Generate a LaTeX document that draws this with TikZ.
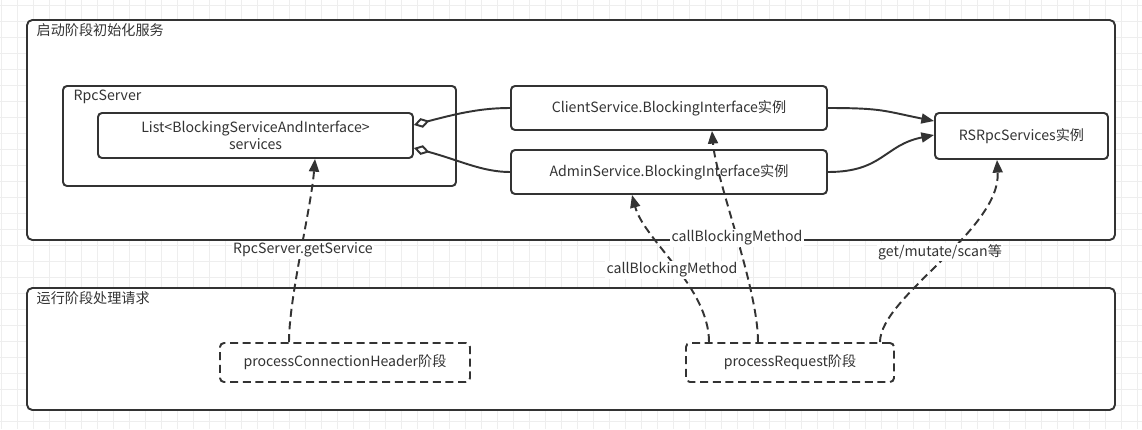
\documentclass[tikz,border=0pt]{standalone}
\usepackage{fontspec}
\setmainfont{Noto Sans CJK SC}
\usepackage{xcolor}
\usetikzlibrary{arrows.meta,calc}
\definecolor{ink}{HTML}{333333}
\definecolor{gridc}{HTML}{EEEEEE}

\begin{document}
\begin{tikzpicture}[
  x=0.75pt, y=-0.75pt,
  font=\fontsize{10.6pt}{12.5pt}\selectfont,
  text=ink,
  box/.style={draw=ink, line width=1.45pt, rounded corners=3pt, fill=white, align=center, inner sep=0pt},
  frame/.style={box, rounded corners=4pt},
  phase/.style={box, dashed, dash pattern=on 6pt off 3.5pt},
  title/.style={anchor=north west, inner sep=1pt},
  lbl/.style={fill=white, inner sep=1pt},
  agg/.style={draw=ink, line width=1.45pt, {Diamond[open, length=12pt, width=7.5pt]}-},
  flow/.style={draw=ink, line width=1.45pt, -{Triangle[length=9.5pt, width=7.5pt]}},
  call/.style={flow, dash pattern=on 6pt off 3.5pt}
]
\useasboundingbox (0,0) rectangle (1142,429);
% background grid
\foreach \gx in {1,17,...,1142} \draw[gridc, line width=0.5pt] (\gx,0) -- (\gx,429);
\foreach \gy in {5,21,...,429} \draw[gridc, line width=0.5pt] (0,\gy) -- (1142,\gy);

% frames
\node[frame, minimum width=816pt, minimum height=165pt] (boot) at (571,130) {};
\node[title] (boott) at ($(boot.north west)+(9,3)$) {启动阶段初始化服务};
\node[frame, minimum width=816pt, minimum height=91.5pt] (run) at (571,349) {};
\node[title] (runt) at ($(run.north west)+(9,3)$) {运行阶段处理请求};

% startup boxes
\node[box, minimum width=294.75pt, minimum height=75pt] (rpc) at (259.5,136) {};
\node[title] (rpct) at ($(rpc.north west)+(10,3)$) {RpcServer};
\node[box, minimum width=236.25pt, minimum height=33.75pt] (lst) at (255.5,135.5) {List<BlockingServiceAndInterface>\\services};
\node[box, minimum width=237pt, minimum height=33pt] (cs) at (669,108) {ClientService.BlockingInterface实例};
\node[box, minimum width=237pt, minimum height=33pt] (as) at (669,172) {AdminService.BlockingInterface实例};
\node[box, minimum width=129.75pt, minimum height=34.5pt] (rs) at (1021.5,136) {RSRpcServices实例};

% request phases
\node[phase, minimum width=187.5pt, minimum height=29.25pt] (pch) at (345,362.5) {processConnectionHeader阶段};
\node[phase, minimum width=156pt, minimum height=29.25pt] (preq) at (790,362.5) {processRequest阶段};

% aggregation and flow
\draw[agg] ($(lst.east)+(0,-10.5)$) .. controls +(45,-12) and +(-28,0) .. (cs.west);
\draw[agg] ($(lst.east)+(0,12.5)$) .. controls +(45,12) and +(-28,0) .. (as.west);
\draw[flow] (cs.east) .. controls +(55,0) and +(-50,-10) .. ($(rs.west)+(0,-15)$);
\draw[flow] (as.east) .. controls +(55,0) and +(-50,10) .. ($(rs.west)+(0,-1)$);

% calls at run time
\draw[call] ($(pch.north)+(-56,0)$) .. controls +(0,-45) and +(-4,50) .. ($(lst.south)+(59.5,0)$);
\draw[call] ($(preq.north)+(-81,0)$) .. controls +(0,-55) and +(12,45) .. ($(as.south)+(-37,0)$);
\draw[call] ($(preq.north)+(-32,0)$) .. controls +(0,-55) and +(4,50) .. ($(cs.south)+(43,0)$);
\draw[call] ($(preq.north)+(90,0)$) .. controls +(0,-45) and +(4,70) .. ($(rs.south)+(-24.5,0)$);

% edge labels
\node[lbl] (l1) at (303,250) {RpcServer.getService};
\node[lbl] (l2) at (672,270) {callBlockingMethod};
\node[lbl] (l3) at (737,238) {callBlockingMethod};
\node[lbl] (l4) at (940,252) {get/mutate/scan等};
\end{tikzpicture}
\end{document}
